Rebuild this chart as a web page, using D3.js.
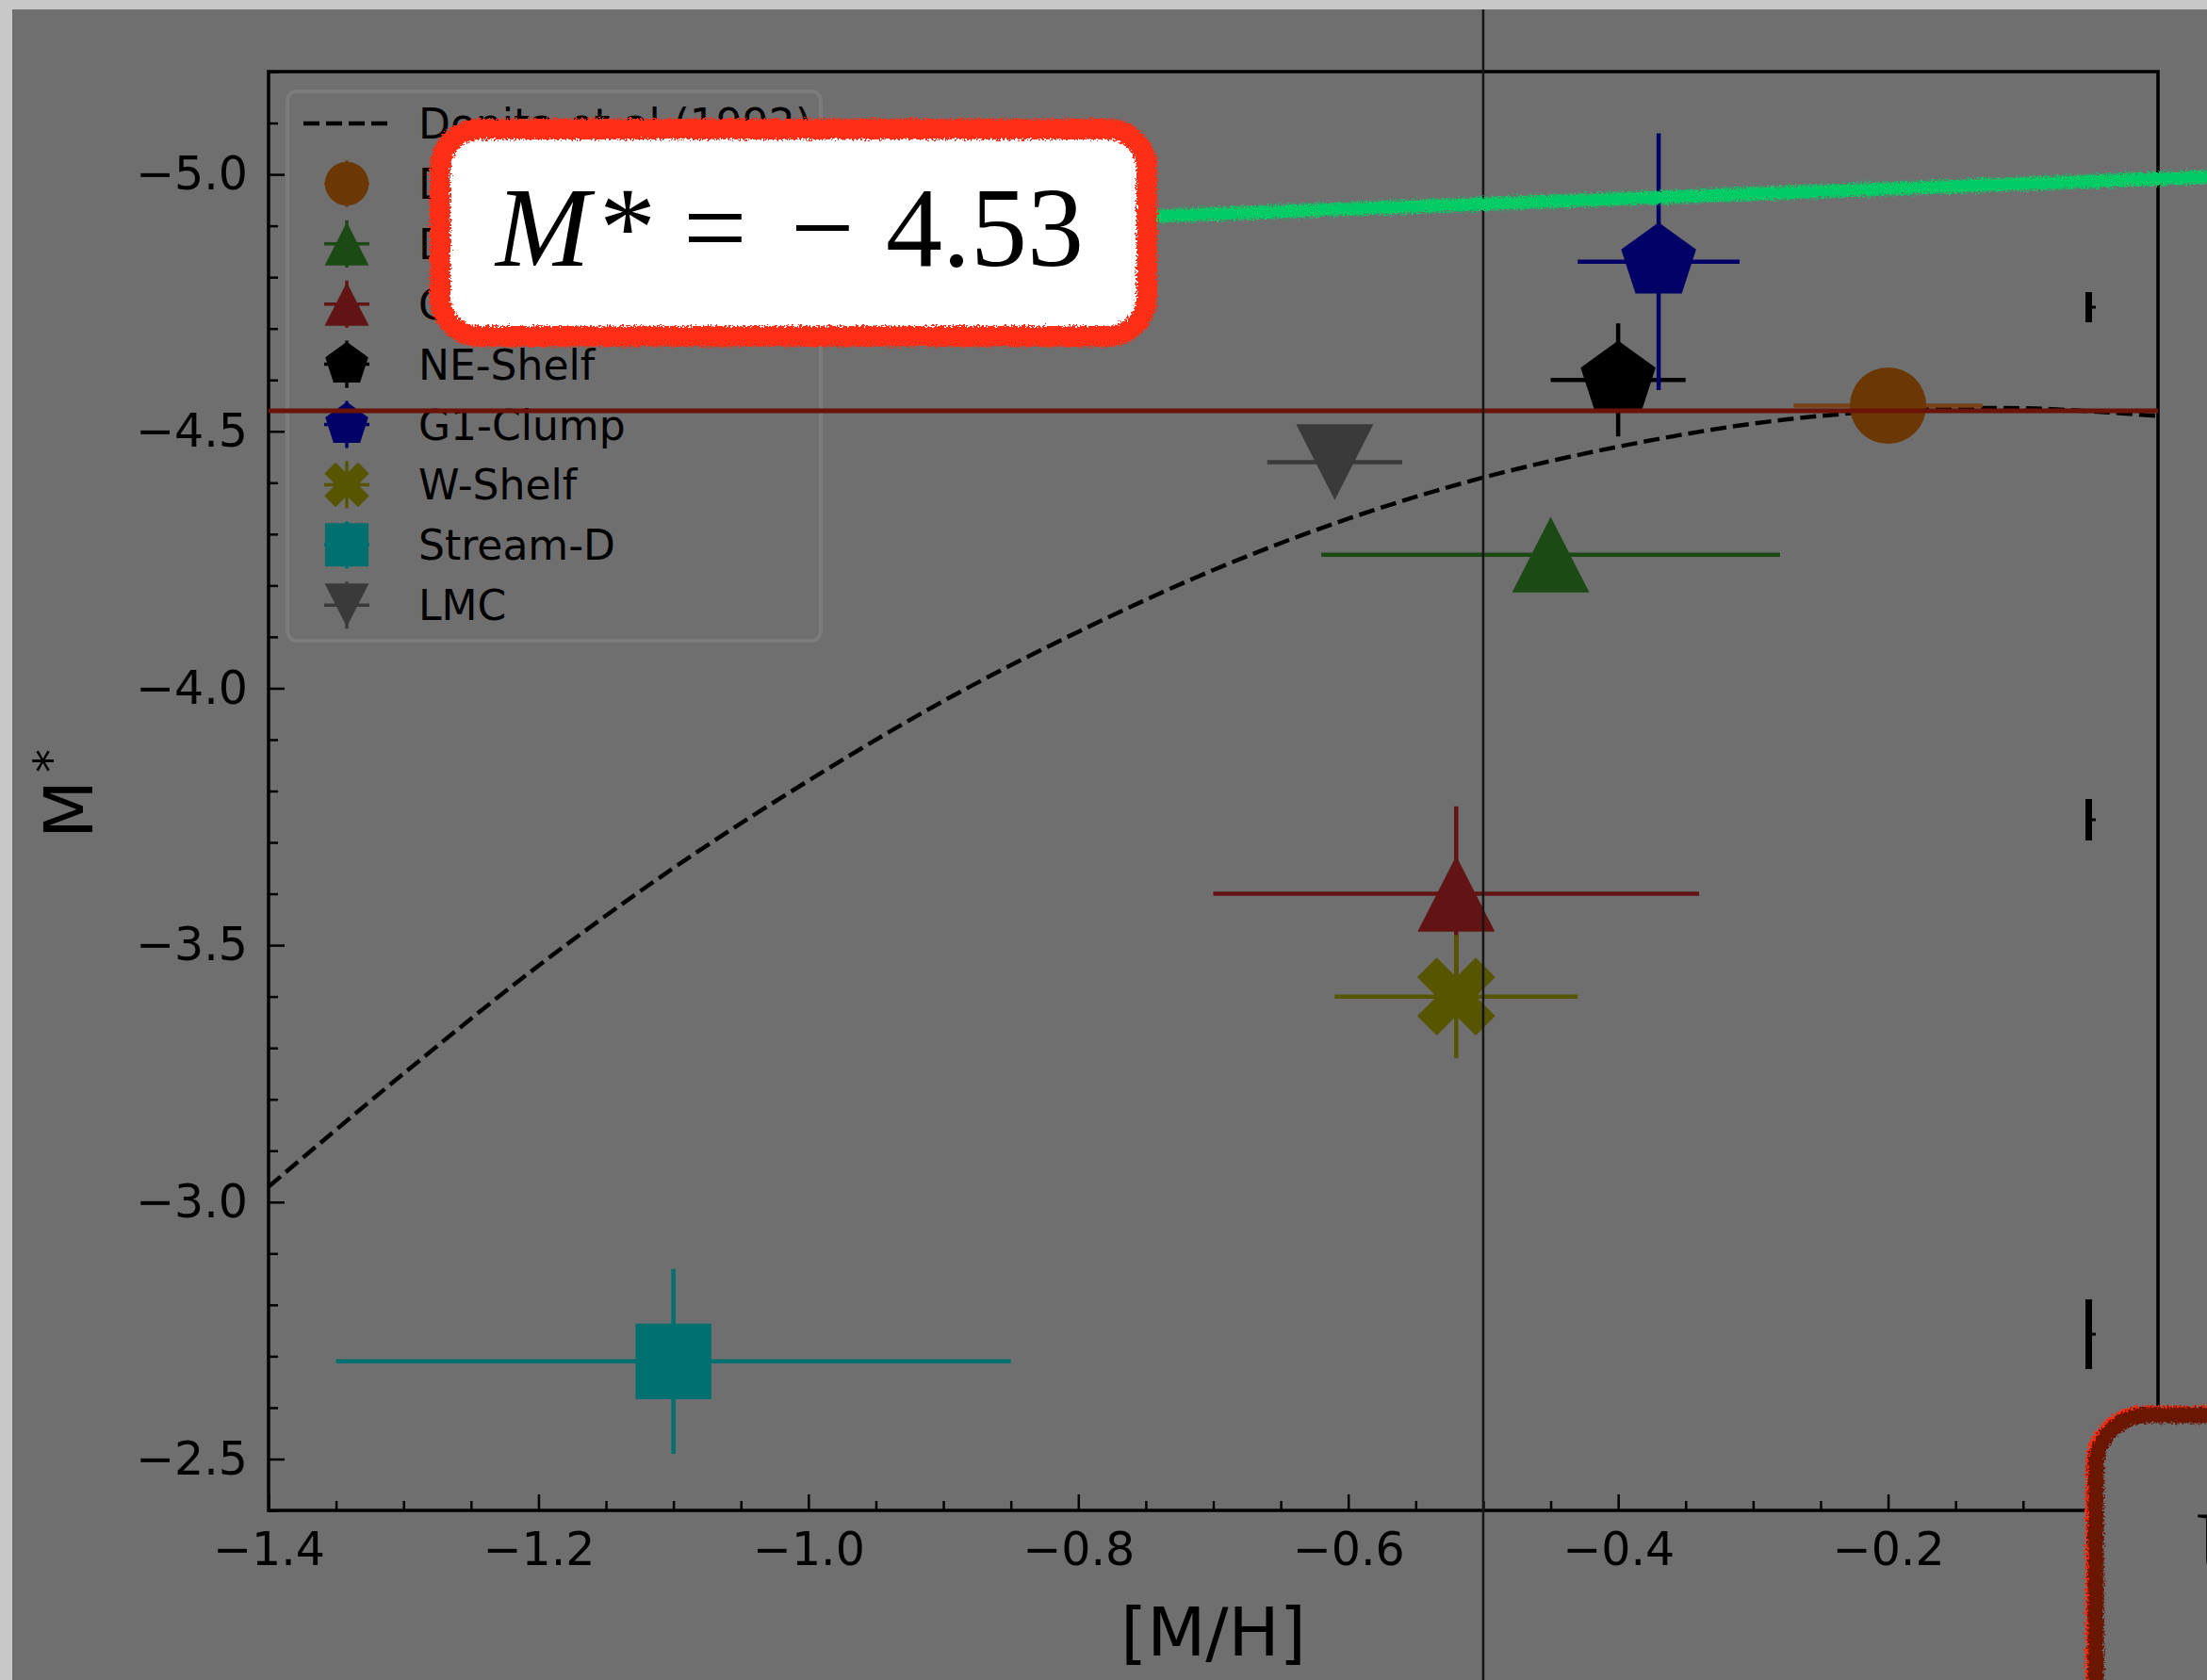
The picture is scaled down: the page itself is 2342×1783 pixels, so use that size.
<!DOCTYPE html>
<html><head><meta charset="utf-8">
<script src="https://cdn.jsdelivr.net/npm/d3@7"></script>
<style>html,body{margin:0;padding:0;background:#6f6f6f;overflow:hidden}</style>
</head><body><svg id="c" width="2342" height="1783" xmlns="http://www.w3.org/2000/svg"></svg>
<script>
// ---------------- data ----------------
const groups = ["Disc", "Disc (outer)", "Giant Stream", "NE-Shelf", "G1-Clump", "W-Shelf", "Stream-D", "LMC"];
const metallicity    = [-0.20, -0.45, -0.52, -0.40, -0.37, -0.52, -1.10, -0.61];
const metallicityErr = [ 0.07,  0.17,  0.18,  0.05,  0.06,  0.09,  0.25,  0.05];
const mStar          = [-4.55, -4.26, -3.60, -4.60, -4.83, -3.40, -2.69, -4.44];
const mStarErr       = [ 0.04,  0.04,  0.17,  0.11,  0.25,  0.12,  0.18,  0.04];
const markerShapes = ["circle", "triangle-up", "triangle-up", "pentagon", "pentagon", "x", "square", "triangle-down"];
const markerColors = ["#6b3805", "#1b4a15", "#621313", "#000000", "#000066", "#575500", "#006f6f", "#3a3a3a"];
const errorColors  = ["#774218", "#1b4a15", "#621313", "#000000", "#000066", "#575500", "#006f6f", "#3a3a3a"];

const curveLabel = "Dopita et al (1992)";
const curveMH = [-1.4, -1.3, -1.2, -1.1, -1.0, -0.9, -0.8, -0.7, -0.6, -0.5, -0.4, -0.3, -0.2, -0.1, 0.0];
const curveM  = [-3.03, -3.25, -3.46, -3.65, -3.82, -3.975, -4.11, -4.23, -4.33, -4.41, -4.47, -4.515, -4.54, -4.545, -4.53];

const xTicks = [-1.4, -1.2, -1.0, -0.8, -0.6, -0.4, -0.2];
const yTicks = [-5.0, -4.5, -4.0, -3.5, -3.0, -2.5];
const xLabel = "[M/H]";
const yLabel = "M";

const cutoffLabel = -4.53;      // annotated value
const cutoffLine  = -4.54;      // horizontal annotation line
const refMH = -0.5;             // vertical reference line
const greenMH = [-0.76, 0.037];
const greenM  = [-4.917, -4.995];

// ---------------- setup ----------------
const W = 2342, H = 1783;
const P = {left: 285, right: 2290, top: 76, bottom: 1603};
const svg = d3.select("#c");
const x = d3.scaleLinear().domain([-1.4, 0.0]).range([P.left, P.right]);
const y = d3.scaleLinear().domain([-5.2, -2.4]).range([P.top, P.bottom]);
const FONT = "'DejaVu Sans', Verdana, sans-serif";
const SERIF = "'Liberation Serif', 'Times New Roman', serif";

const defs = svg.append("defs");
function roughFilter(id, freq, scale, seed) {
  const f = defs.append("filter").attr("id", id)
    .attr("filterUnits", "userSpaceOnUse").attr("x", 0).attr("y", 0).attr("width", W).attr("height", H);
  f.append("feTurbulence").attr("type", "fractalNoise").attr("baseFrequency", freq)
    .attr("numOctaves", 2).attr("seed", seed).attr("result", "n");
  f.append("feDisplacementMap").attr("in", "SourceGraphic").attr("in2", "n")
    .attr("scale", scale).attr("xChannelSelector", "R").attr("yChannelSelector", "G");
}
roughFilter("rough", 0.45, 9, 4);
roughFilter("rough2", 0.6, 11, 7);
defs.append("clipPath").attr("id", "plotclip").append("rect")
  .attr("x", P.left).attr("y", P.top).attr("width", P.right - P.left).attr("height", P.bottom - P.top);

// background
svg.append("rect").attr("width", W).attr("height", H).attr("fill", "#6f6f6f");

function markerPath(shape, s) {
  const h = s / 2;
  switch (shape) {
    case "circle": { const r = h * 0.99; return `M${-r},0A${r},${r} 0 1,0 ${r},0A${r},${r} 0 1,0 ${-r},0Z`; }
    case "triangle-up": return `M0,${-h * 0.98}L${h},${h * 0.98}L${-h},${h * 0.98}Z`;
    case "triangle-down": return `M0,${h * 0.98}L${h},${-h * 0.98}L${-h},${-h * 0.98}Z`;
    case "square": { const q = h * 0.98; return `M${-q},${-q}H${q}V${q}H${-q}Z`; }
    case "pentagon": {
      const r = h * 1.02;
      return d3.range(5).map((k, i) => {
        const a = (-90 + 72 * k) * Math.PI / 180;
        return (i ? "L" : "M") + (r * Math.cos(a)).toFixed(2) + "," + (r * Math.sin(a)).toFixed(2);
      }).join("") + "Z";
    }
    case "x": {
      const v = [[0.25, 0], [0.5, 0.25], [0.75, 0], [1, 0.25], [0.75, 0.5], [1, 0.75], [0.75, 1], [0.5, 0.75], [0.25, 1], [0, 0.75], [0.25, 0.5], [0, 0.25]];
      const s2 = s * 1.01;
      return v.map((p, i) => (i ? "L" : "M") + ((p[0] - 0.5) * s2).toFixed(2) + "," + ((p[1] - 0.5) * s2).toFixed(2)).join("") + "Z";
    }
  }
}

// ---------------- plot ----------------
const plot = svg.append("g").attr("clip-path", "url(#plotclip)");
const line = d3.line().x(d => x(d[0])).y(d => y(d[1])).curve(d3.curveCatmullRom);
plot.append("path").datum(curveMH.map((v, i) => [v, curveM[i]]))
  .attr("d", line).attr("fill", "none").attr("stroke", "#000")
  .attr("stroke-width", 4.5).attr("stroke-dasharray", "17,7");

const MS = 82;
groups.forEach((g, i) => {
  const gg = plot.append("g");
  gg.append("line").attr("x1", x(metallicity[i] - metallicityErr[i])).attr("x2", x(metallicity[i] + metallicityErr[i]))
    .attr("y1", y(mStar[i])).attr("y2", y(mStar[i])).attr("stroke", errorColors[i]).attr("stroke-width", 4.5);
  gg.append("line").attr("x1", x(metallicity[i])).attr("x2", x(metallicity[i]))
    .attr("y1", y(mStar[i] - mStarErr[i])).attr("y2", y(mStar[i] + mStarErr[i]))
    .attr("stroke", errorColors[i]).attr("stroke-width", 4.5);
  gg.append("path").attr("d", markerPath(markerShapes[i], MS))
    .attr("transform", `translate(${x(metallicity[i])},${y(mStar[i])})`).attr("fill", markerColors[i]);
});

// axes (ticks inward)
function styleAxis(g) {
  g.select(".domain").remove();
  g.selectAll(".tick line").attr("stroke", "#000").attr("stroke-width", 2.5);
  g.selectAll(".tick text").attr("fill", "#000").attr("font-family", FONT).attr("font-size", 49);
}
const fmt = d3.format(".1f");
const xMinor = d3.range(-28, 1).map(k => k * 0.05).filter(v => !xTicks.some(t => Math.abs(t - v) < 1e-6));
const yMinor = d3.range(-52, -23).map(k => k * 0.1).filter(v => !yTicks.some(t => Math.abs(t - v) < 1e-6));

svg.append("g").attr("transform", `translate(0,${P.bottom})`)
  .call(d3.axisBottom(x).tickValues(xMinor).tickSize(-10).tickFormat("")).call(styleAxis);
svg.append("g").attr("transform", `translate(0,${P.bottom})`)
  .call(d3.axisBottom(x).tickValues(xTicks).tickSize(-17).tickPadding(23).tickFormat(fmt)).call(styleAxis);
svg.append("g").attr("transform", `translate(${P.left},0)`)
  .call(d3.axisLeft(y).tickValues(yMinor).tickSize(-10).tickFormat("")).call(styleAxis);
svg.append("g").attr("transform", `translate(${P.left},0)`)
  .call(d3.axisLeft(y).tickValues(yTicks).tickSize(-17).tickPadding(22).tickFormat(fmt)).call(styleAxis);

svg.append("rect").attr("x", P.left).attr("y", P.top).attr("width", P.right - P.left).attr("height", P.bottom - P.top)
  .attr("fill", "none").attr("stroke", "#000").attr("stroke-width", 3.5);

// axis labels
svg.append("text").attr("x", (P.left + P.right) / 2).attr("y", 1757).attr("text-anchor", "middle")
  .attr("font-family", FONT).attr("font-size", 72).attr("fill", "#000").text(xLabel);
const yl = svg.append("text").attr("transform", "translate(98,890) rotate(-90)")
  .attr("font-family", FONT).attr("font-size", 72).attr("fill", "#000");
yl.append("tspan").text(yLabel);
yl.append("tspan").attr("dx", 8).attr("dy", -27).attr("font-size", 50).text("*");

// ---------------- legend ----------------
const leg = svg.append("g");
leg.append("rect").attr("x", 305).attr("y", 97).attr("width", 566).attr("height", 583).attr("rx", 10)
  .attr("fill", "#6f6f6f").attr("stroke", "#7c7c7c").attr("stroke-width", 4);
const rowY = i => 131 + i * 63.9;
leg.append("line").attr("x1", 322).attr("x2", 411).attr("y1", rowY(0)).attr("y2", rowY(0))
  .attr("stroke", "#000").attr("stroke-width", 4.5).attr("stroke-dasharray", "17,7");
leg.append("text").attr("x", 444).attr("y", rowY(0) + 16).attr("font-family", FONT).attr("font-size", 44)
  .attr("fill", "#000").text(curveLabel);
groups.forEach((g, i) => {
  const cy = rowY(i + 1), cx = 368;
  leg.append("line").attr("x1", cx - 24).attr("x2", cx + 24).attr("y1", cy).attr("y2", cy)
    .attr("stroke", errorColors[i]).attr("stroke-width", 3.5);
  leg.append("line").attr("x1", cx).attr("x2", cx).attr("y1", cy - 25).attr("y2", cy + 25)
    .attr("stroke", errorColors[i]).attr("stroke-width", 3.5);
  leg.append("path").attr("d", markerPath(markerShapes[i], 47)).attr("transform", `translate(${cx},${cy})`)
    .attr("fill", markerColors[i]);
  leg.append("text").attr("x", 444).attr("y", cy + 16).attr("font-family", FONT).attr("font-size", 44)
    .attr("fill", "#000").text(g);
});

// ---------------- annotations ----------------
svg.append("line").attr("x1", x.range()[0]).attr("x2", x.range()[1]).attr("y1", y(cutoffLine)).attr("y2", y(cutoffLine))
  .attr("stroke", "#6b1306").attr("stroke-width", 5);
svg.append("line").attr("x1", x(refMH)).attr("x2", x(refMH)).attr("y1", 0).attr("y2", H)
  .attr("stroke", "#151515").attr("stroke-width", 2.5);

// short black marks near the right edge
[[310, 342], [848, 892], [1379, 1453]].forEach(([a, b]) => {
  svg.append("rect").attr("x", 2213).attr("y", a).attr("width", 7).attr("height", b - a).attr("fill", "#000");
  svg.append("rect").attr("x", 2219).attr("y", (a + b) / 2 - 1.5).attr("width", 5).attr("height", 3).attr("fill", "#000");
});

// green sketch line
svg.append("line").attr("x1", x(greenMH[0])).attr("y1", y(greenM[0])).attr("x2", x(greenMH[1])).attr("y2", y(greenM[1]))
  .attr("stroke", "#00cc66").attr("stroke-width", 14).attr("filter", "url(#rough2)");

// value box
svg.append("rect").attr("x", 467).attr("y", 137).attr("width", 750).attr("height", 220).attr("rx", 42)
  .attr("fill", "#ffffff").attr("stroke", "#ff2d12").attr("stroke-width", 22).attr("filter", "url(#rough)");
const vt = svg.append("text").attr("y", 282).attr("font-family", SERIF)
  .attr("font-size", 120).attr("fill", "#000");
vt.append("tspan").attr("x", 526).attr("font-style", "italic").text("M");
vt.append("tspan").attr("x", 636).text("*");
vt.append("tspan").attr("x", 725).text("=");
vt.append("tspan").attr("x", 839).text("\u2212");
vt.append("tspan").attr("x", 940).text(Math.abs(cutoffLabel).toFixed(2));

// bottom-right box
svg.append("rect").attr("x", 2221).attr("y", 1500).attr("width", 320).attr("height", 400).attr("rx", 55)
  .attr("fill", "#6f6f6f").attr("stroke", "#ff2a10").attr("stroke-width", 16).attr("filter", "url(#rough)");
svg.append("rect").attr("x", 2224).attr("y", 1502).attr("width", 320).attr("height", 400).attr("rx", 55)
  .attr("fill", "#6f6f6f").attr("stroke", "#6b1306").attr("stroke-width", 17).attr("filter", "url(#rough)");
svg.append("text").attr("x", 2330).attr("y", 1677).attr("font-family", SERIF)
  .attr("font-size", 106).attr("fill", "#000").text("U");

// light frame strips
svg.append("rect").attr("x", 0).attr("y", 0).attr("width", W).attr("height", 10).attr("fill", "#c8c8c8");
svg.append("rect").attr("x", 0).attr("y", 0).attr("width", 13).attr("height", H).attr("fill", "#c8c8c8");
</script>
</body></html>
